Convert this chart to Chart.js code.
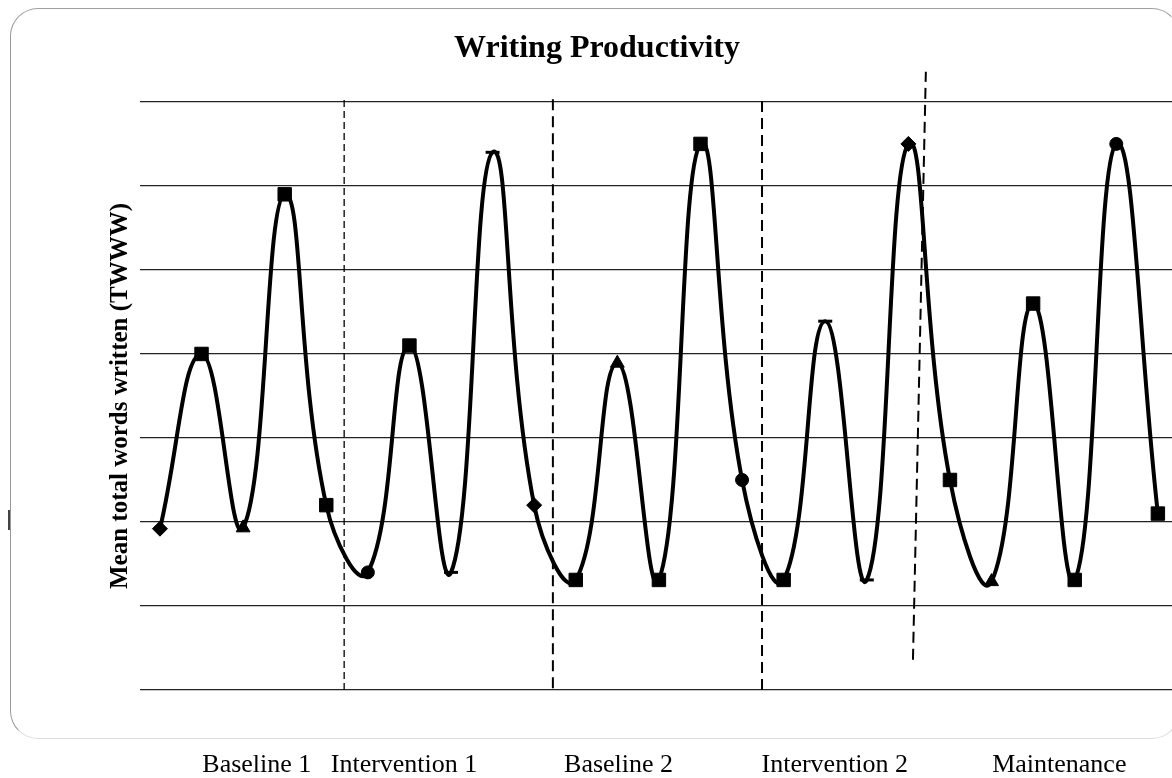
<!DOCTYPE html>
<html>
<head>
<meta charset="utf-8">
<title>Writing Productivity</title>
<script src="https://cdn.jsdelivr.net/npm/chart.js@4"></script>
<style>
    html, body { margin: 0; padding: 0; background: #fff; overflow: hidden; }
    .frame {
        position: absolute;
        left: 10px; top: 8px;
        width: 1170px; height: 731px;
        border: 1px solid;
        border-color: #a0a0a0 #c8c8c8 #dedede #9a9a9a;
        border-radius: 28px;
        box-sizing: border-box;
    }
    .tick-mark { position: absolute; left: 8px; top: 510px; width: 2px; height: 20px; background: #444; }
    .chart-wrap { position: absolute; left: 0; top: 0; width: 1172px; height: 778px; }
</style>
</head>
<body>
<div class="frame"></div>
<div class="tick-mark"></div>
<div class="chart-wrap"><canvas id="productivityChart" width="1172" height="778"></canvas></div>

<script>
// Session numbers and mean TWWW per session
const sessions = [1, 2, 3, 4, 5, 6, 7, 8, 9, 10, 11, 12, 13, 14, 15, 16, 17, 18, 19, 20, 21, 22, 23, 24, 25];
const twww = [19.2, 40, 19.3, 59, 22, 14, 41, 14, 64, 22, 13.1, 38.9, 13.1, 65, 25, 13.1, 43.9, 13.1, 65, 25, 12.9, 46, 13.1, 65, 21];
const markers = ['rectRot', 'rect', 'triangle', 'rect', 'rect', 'circle', 'rect', 'line', 'line', 'rectRot',
                 'rect', 'triangle', 'rect', 'rect', 'circle', 'rect', 'line', 'line', 'rectRot', 'rect',
                 'triangle', 'rect', 'rect', 'circle', 'rect'];

// Phase names and where they sit along the session axis
const phaseLabels = ['Baseline 1', 'Intervention 1', 'Baseline 2', 'Intervention 2', 'Maintenance'];
const phaseCenters = [3.33, 6.87, 12.03, 17.23, 22.63];

// Phase change lines (session position at bottom / top, value at bottom / top)
const changeX0 = [5.43, 10.45, 15.48, 19.11];
const changeX1 = [5.43, 10.45, 15.48, 19.42];
const changeY0 = [0, 0.2, 0, 3.6];
const changeY1 = [70.5, 70.7, 70.1, 73.6];

const yTicks = [0, 10, 20, 30, 40, 50, 60, 70];

const SERIF = "'Liberation Serif', 'Times New Roman', serif";

document.addEventListener('DOMContentLoaded', function() {
    initializeChart();
});

function markerRadius(style) {
    if (style === 'rect') return 9.5;
    if (style === 'triangle') return 8;
    if (style === 'circle') return 6.5;
    if (style === 'line') return 7;
    return 7.5;
}

function initializeChart() {
    const ctx = document.getElementById('productivityChart');
    if (!ctx) return;

    const points = sessions.map((s, i) => ({ x: s, y: twww[i] }));

    const phaseLines = changeX0.map((x0, i) => ({
        data: [{ x: x0, y: changeY0[i] }, { x: changeX1[i], y: changeY1[i] }],
        borderColor: '#000',
        borderWidth: i === 0 ? 1.3 : 2,
        borderDash: i === 0 ? [7, 4] : [11, 6],
        pointRadius: 0,
        tension: 0,
        clip: false,
        order: 2
    }));

    new Chart(ctx, {
        type: 'line',
        data: {
            datasets: [{
                label: 'TWWW',
                data: points,
                borderColor: '#000',
                borderWidth: 4,
                tension: 0.45,
                pointStyle: markers,
                pointRadius: markers.map(markerRadius),
                pointBackgroundColor: '#000',
                pointBorderColor: '#000',
                pointBorderWidth: markers.map(m => m === 'line' ? 3 : 1),
                clip: false,
                order: 1
            }].concat(phaseLines)
        },
        options: {
            responsive: false,
            animation: false,
            events: [],
            layout: { autoPadding: false, padding: { left: 22, right: 0, top: 0, bottom: 0 } },
            plugins: {
                legend: { display: false },
                tooltip: { enabled: false },
                title: {
                    display: true,
                    text: 'Writing Productivity',
                    color: '#000',
                    font: { family: SERIF, size: 32, weight: 'bold' },
                    padding: { top: 29.5, bottom: 34 }
                }
            },
            scales: {
                x: {
                    type: 'linear',
                    min: 0.52,
                    max: 25.34,
                    grid: { display: false, drawTicks: false },
                    border: { display: false },
                    afterBuildTicks: function(scale) {
                        scale.ticks = phaseCenters.map(v => ({ value: v }));
                    },
                    afterFit: function(scale) {
                        scale.height = 88;
                        scale.paddingLeft = 0;
                        scale.paddingRight = 0;
                    },
                    ticks: {
                        autoSkip: false,
                        maxRotation: 0,
                        padding: 60,
                        color: '#000',
                        font: { family: SERIF, size: 26 },
                        callback: function(value, index) {
                            return phaseLabels[index];
                        }
                    }
                },
                y: {
                    min: 0,
                    max: 70,
                    afterBuildTicks: function(scale) {
                        scale.ticks = yTicks.map(v => ({ value: v }));
                    },
                    afterFit: function(scale) {
                        scale.width = 118;
                        scale.paddingTop = 0;
                        scale.paddingBottom = 0;
                    },
                    grid: { color: '#222', lineWidth: 1.2, drawTicks: false },
                    border: { display: false },
                    ticks: { display: false },
                    title: {
                        display: true,
                        text: 'Mean total words written (TWWW)',
                        color: '#000',
                        font: { family: SERIF, size: 25, weight: 'bold' },
                        padding: { top: 84, bottom: 0 }
                    }
                }
            }
        }
    });
}
</script>
</body>
</html>
